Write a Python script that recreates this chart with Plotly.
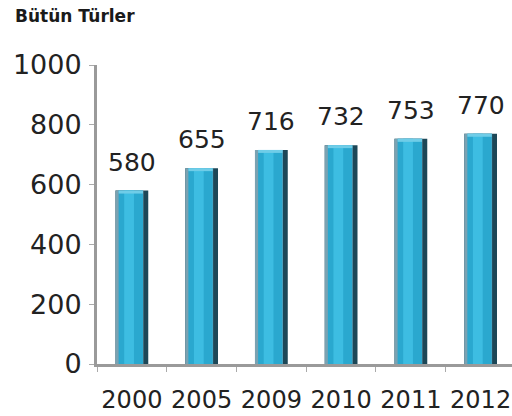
import plotly.graph_objects as go

years = ["2000", "2005", "2009", "2010", "2011", "2012"]
values = [580, 655, 716, 732, 753, 770]
y_ticks = [0, 200, 400, 600, 800, 1000]
title_text = "Bütün Türler"

FONT = "DejaVu Sans"
fig = go.Figure()

# layered bars to mimic the shaded cylinder look
layers = [
    (-0.235, 0.47, "#1d4757"),   # dark right edge (full)
    (-0.235, 0.40, "#7aa2b2"),   # grey-blue left edge
    (-0.19, 0.35, "#2aa8cf"),    # main body
    (-0.11, 0.14, "#3dbde2"),    # highlight
]
for off, w, col in layers:
    fig.add_trace(go.Bar(
        x=years, y=values, offset=off, width=w,
        marker=dict(color=col, line=dict(width=0)),
        hoverinfo="skip", showlegend=False,
    ))

# lighter top cap
cap = 10
fig.add_trace(go.Bar(
    x=years, y=[cap] * len(values), base=[v - cap for v in values],
    offset=-0.19, width=0.35,
    marker=dict(color="#6fcde8", line=dict(width=0)),
    hoverinfo="skip", showlegend=False,
))

for i, v in enumerate(values):
    fig.add_annotation(
        x=i, y=v, text=str(v), showarrow=False,
        yanchor="bottom", yshift=12,
        font=dict(family=FONT, size=25, color="#222222"),
    )

fig.add_annotation(
    xref="paper", yref="paper", x=-0.203, y=1.204, xanchor="left", yanchor="top",
    text="<b>" + title_text + "</b>", showarrow=False,
    font=dict(family=FONT, size=17, color="#1a1a1a"),
)

fig.update_layout(
    width=512, height=416,
    margin=dict(l=97, r=0, t=65, b=52, autoexpand=False),
    paper_bgcolor="white", plot_bgcolor="white",
    barmode="overlay",
    xaxis=dict(
        type="category", range=[-0.5, 5.45], automargin=False,
        showline=True, linecolor="#9a9a9a", linewidth=3,
        ticks="outside", tickson="boundaries", ticklen=5, tickcolor="#aaaaaa", tickwidth=1,
        ticklabelstandoff=12, tickangle=0,
        tickfont=dict(family=FONT, size=24, color="#222222"),
        showgrid=False, zeroline=False,
    ),
    yaxis=dict(
        range=[0, 1000], tickvals=y_ticks, automargin=False,
        showline=True, linecolor="#9a9a9a", linewidth=3,
        ticks="outside", ticklen=5, tickcolor="#aaaaaa", tickwidth=1,
        ticklabelstandoff=2,
        tickfont=dict(family=FONT, size=27, color="#222222"),
        showgrid=False, zeroline=False,
    ),
    bargap=0.5,
)

fig.write_html("out.html", config={"displayModeBar": False},
               post_script="document.body.style.margin='0';")
